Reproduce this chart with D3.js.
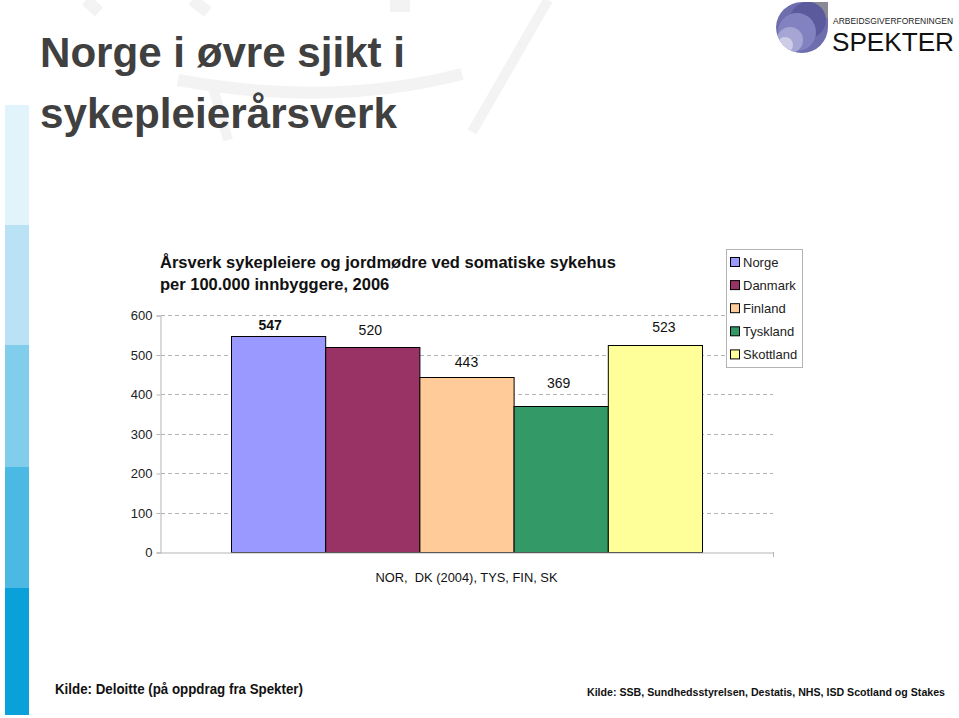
<!DOCTYPE html>
<html><head><meta charset="utf-8">
<script src="https://cdn.jsdelivr.net/npm/d3@7"></script>
<style>
html,body{margin:0;padding:0;background:#fff;}
svg{display:block;font-family:"Liberation Sans",Arial,sans-serif;}
</style></head>
<body>
<script>
// ---- data ----
const categories = ["NOR,  DK (2004), TYS, FIN, SK"];
const seriesNames = ["Norge", "Danmark", "Finland", "Tyskland", "Skottland"];
const seriesValues = [547, 520, 443, 369, 523];
const yTicks = [0, 100, 200, 300, 400, 500, 600];
const titleLines = ["Norge i øvre sjikt i", "sykepleierårsverk"];
const chartTitleLines = ["Årsverk sykepleiere og jordmødre ved somatiske sykehus", "per 100.000 innbyggere, 2006"];
const sourceLeft = "Kilde: Deloitte (på oppdrag fra Spekter)";
const sourceRight = "Kilde: SSB, Sundhedsstyrelsen, Destatis, NHS, ISD Scotland og Stakes";

// ---- styles ----
const colors = ["#9999FF", "#993366", "#FFCC99", "#339966", "#FFFF99"];
const labelDx = [-8, -2, 0, -2, 9];
const labelDy = [6, 12, 10, 18, 13];
const labelBold = [true, false, false, false, false];
const titleWidths = [365, 357];

const W = 959, H = 718;
const svg = d3.select("body").append("svg").attr("width", W).attr("height", H);

// faint watermark
const wmc = "#f3f3f3";
const wm = svg.append("g").attr("fill", "none").attr("stroke", wmc).attr("stroke-linecap", "butt");
wm.append("path").attr("d", "M178,80 Q330,108 462,74").attr("stroke-width", 12);
wm.append("path").attr("d", "M86,0 L99,12").attr("stroke-width", 12);
wm.append("path").attr("d", "M192,0 L208,12").attr("stroke-width", 12);
wm.append("rect").attr("x", 390).attr("y", 0).attr("width", 20).attr("height", 12).attr("fill", wmc).attr("stroke", "none");
wm.append("path").attr("d", "M548,0 L472,132").attr("stroke-width", 10);
wm.append("path").attr("d", "M212,84 L228,140").attr("stroke-width", 10);

// left strip
const strip = [[105, 225, "#e1f3fb"], [225, 345, "#b9e3f5"], [345, 467, "#80cdec"], [467, 588, "#4cb8e4"], [588, 715, "#0aa1db"]];
svg.selectAll("rect.strip").data(strip).join("rect").attr("class", "strip")
  .attr("x", 5).attr("width", 24).attr("y", d => d[0]).attr("height", d => d[1] - d[0]).attr("fill", d => d[2]);

// logo
const logo = svg.append("g");
const clip = svg.append("defs").append("clipPath").attr("id", "lc");
clip.append("path").attr("d", "M828,2 L828,27 A26,26 0 0 1 802,53 A26,26 0 0 1 776,27 A26,26 0 0 1 802,2 Z");
const lg = logo.append("g").attr("clip-path", "url(#lc)");
lg.append("rect").attr("x", 770).attr("y", 0).attr("width", 60).attr("height", 56).attr("fill", "#6e6eae");
lg.append("rect").attr("x", 812).attr("y", 2).attr("width", 16).attr("height", 16).attr("fill", "#8a8a96");
lg.append("circle").attr("cx", 808).attr("cy", 20).attr("r", 18).attr("fill", "#5a5a9c");
lg.append("circle").attr("cx", 797).attr("cy", 32).attr("r", 19).attr("fill", "#8282c0");
lg.append("circle").attr("cx", 790).attr("cy", 40).attr("r", 13).attr("fill", "#a6a6d4");
lg.append("circle").attr("cx", 785).attr("cy", 45).attr("r", 8).attr("fill", "#cdcde8");
logo.append("text").attr("x", 833).attr("y", 24).attr("font-size", 8.5).attr("fill", "#222")
  .attr("textLength", 120).attr("lengthAdjust", "spacingAndGlyphs").text("ARBEIDSGIVERFORENINGEN");
logo.append("text").attr("x", 832).attr("y", 51).attr("font-size", 26).attr("fill", "#111")
  .attr("textLength", 122).attr("lengthAdjust", "spacingAndGlyphs").text("SPEKTER");

// title
svg.selectAll("text.title").data(titleLines).join("text").attr("class", "title")
  .attr("x", 40).attr("y", (d, i) => 67 + i * 61).attr("font-size", 43).attr("font-weight", "bold")
  .attr("fill", "#404040").attr("textLength", (d, i) => titleWidths[i]).attr("lengthAdjust", "spacingAndGlyphs")
  .text(d => d);

// chart title
svg.selectAll("text.ctitle").data(chartTitleLines).join("text").attr("class", "ctitle")
  .attr("x", 160).attr("y", (d, i) => 268 + i * 22).attr("font-size", 16.5).attr("font-weight", "bold")
  .attr("fill", "#111").text(d => d);

// scales
const x0 = d3.scaleBand().domain(categories).range([160, 773]).paddingInner(0).paddingOuter(0.1507);
const x1 = d3.scaleBand().domain(seriesNames).range([0, x0.bandwidth()]).padding(0);
const y = d3.scaleLinear().domain([0, 600]).range([552, 315]);

// gridlines
svg.append("g").selectAll("line").data(yTicks.filter(t => t > 0)).join("line")
  .attr("x1", 161).attr("x2", 773).attr("y1", d => Math.round(y(d)) + 0.5).attr("y2", d => Math.round(y(d)) + 0.5)
  .attr("stroke", "#b4b4b4").attr("stroke-dasharray", "4,3");

// y axis
const yAxis = svg.append("g").attr("transform", "translate(160.5,0.5)")
  .call(d3.axisLeft(y).tickValues(yTicks).tickSize(4).tickPadding(4).tickFormat(d3.format("d")));
yAxis.select(".domain").attr("stroke", "#b4b4b4");
yAxis.selectAll(".tick line").attr("stroke", "#b4b4b4");
yAxis.selectAll(".tick text").attr("font-size", 13).attr("fill", "#222")
  .attr("font-family", "Liberation Sans, Arial, sans-serif");

// bars
const g = svg.append("g").attr("transform", `translate(${x0(categories[0])},0)`);
g.selectAll("rect").data(seriesValues).join("rect")
  .attr("x", (d, i) => x1(seriesNames[i]) + 0.5).attr("width", x1.bandwidth())
  .attr("y", d => Math.round(y(d)) + 0.5).attr("height", d => y(0) - Math.round(y(d)))
  .attr("fill", (d, i) => colors[i]).attr("stroke", "#000").attr("stroke-width", 1);

// x axis
const xAxis = svg.append("g").attr("transform", "translate(0,552.5)")
  .call(d3.axisBottom(x0).tickSize(0).tickFormat(""));
xAxis.select(".domain").attr("stroke", "#b4b4b4");
svg.append("line").attr("x1", 773.5).attr("x2", 773.5).attr("y1", 552).attr("y2", 557).attr("stroke", "#b4b4b4");
svg.append("text").attr("x", x0(categories[0]) + x0.bandwidth() / 2).attr("y", 582)
  .attr("text-anchor", "middle").attr("font-size", 13).attr("fill", "#111").style("white-space", "pre")
  .attr("textLength", 182).attr("lengthAdjust", "spacingAndGlyphs").text(categories[0]);

// value labels
g.selectAll("text.val").data(seriesValues).join("text").attr("class", "val")
  .attr("x", (d, i) => x1(seriesNames[i]) + x1.bandwidth() / 2 + labelDx[i])
  .attr("y", (d, i) => y(d) - labelDy[i]).attr("text-anchor", "middle")
  .attr("font-size", 14).attr("font-weight", (d, i) => labelBold[i] ? "bold" : "normal")
  .attr("fill", "#111").text(d => d);

// legend
const leg = svg.append("g");
leg.append("rect").attr("x", 726.5).attr("y", 249.5).attr("width", 76).attr("height", 118)
  .attr("fill", "#fff").attr("stroke", "#b4b4b4");
const items = leg.selectAll("g.item").data(seriesNames).join("g").attr("class", "item")
  .attr("transform", (d, i) => `translate(0,${262 + i * 23.1})`);
items.append("rect").attr("x", 730.5).attr("y", -4.5).attr("width", 9).attr("height", 9)
  .attr("fill", (d, i) => colors[i]).attr("stroke", "#000");
items.append("text").attr("x", 743).attr("y", 4.5).attr("font-size", 13).attr("fill", "#222").text(d => d);

// sources
svg.append("text").attr("x", 55).attr("y", 694).attr("font-size", 14).attr("font-weight", "bold").attr("fill", "#111")
  .attr("textLength", 248).attr("lengthAdjust", "spacingAndGlyphs").text(sourceLeft);
svg.append("text").attr("x", 587).attr("y", 696).attr("font-size", 11).attr("font-weight", "bold").attr("fill", "#111")
  .attr("textLength", 358).attr("lengthAdjust", "spacingAndGlyphs").text(sourceRight);
</script>
</body></html>
